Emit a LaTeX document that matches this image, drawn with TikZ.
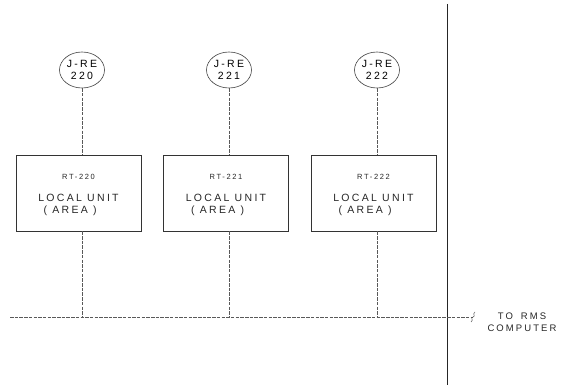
\documentclass[tikz,border=0pt]{standalone}
\usepackage{fontspec}
\usetikzlibrary{shapes.geometric}
\setmainfont{Liberation Sans}
\newfontfamily\cadfont[LetterSpace=22]{Liberation Sans}
\begin{document}
\begin{tikzpicture}[x=1pt,y=-1pt,
  tag/.style={draw=black!75,ellipse,minimum width=45pt,minimum height=36pt,inner sep=0pt,
     font=\cadfont\fontsize{10.5}{11.5}\selectfont,align=center,line width=0.6pt},
  unitbox/.style={draw=black!80,minimum width=125pt,minimum height=76pt,inner sep=0pt,line width=0.6pt},
  lbl/.style={font=\cadfont\fontsize{10.5}{12.5}\selectfont,align=left,text=black!85},
  rt/.style={font=\cadfont\fontsize{7.5}{8}\selectfont,text=black!85},
  dashline/.style={draw=black!65,dash pattern=on 3.5pt off 1.2pt,line width=0.6pt}]
\useasboundingbox (0,0) rectangle (561,385);
% solid vertical boundary
\coordinate (vt) at (447,4);
\coordinate (vb) at (447,385);
\draw[line width=0.8pt,black!85] (vt) -- (vb);
% tags
\node[tag] (t1) at (82,70) {J-RE\\220};
\node[tag] (t2) at (229,70) {J-RE\\221};
\node[tag] (t3) at (377,70) {J-RE\\222};
% boxes
\node[unitbox] (b1) at (78.5,193) {};
\node[unitbox] (b2) at (226,193) {};
\node[unitbox] (b3) at (373.5,193) {};
\foreach \i/\n in {1/220,2/221,3/222}{
  \node[rt] (r\i) at ([yshift=16pt]b\i.center) {RT-\n};
  \node[lbl] (l\i) at ([yshift=-12pt]b\i.center) {LOCAL UNIT\\\hspace*{0.5em}( AREA )};
}
% bus
\coordinate (bs) at (10,317);
\coordinate (be) at (473,317);
\draw[dashline] (bs) -- (be);
\draw[black!70,line width=0.5pt] (be) .. controls (476,316) and (472,314) .. (475,312);
\draw[black!70,line width=0.5pt] (be) .. controls (470,318) and (474,320) .. (471,322);
% drops
\foreach \i/\x in {1/82,2/229,3/377}{
  \coordinate (j\i) at (\x,317);
  \draw[dashline] (t\i.south) -- (t\i.south |- b\i.north);
  \draw[dashline] (t\i.south |- b\i.south) -- (j\i);
}
\node[font=\cadfont\fontsize{9.5}{12.5}\selectfont,align=center,text=black!85] (rms) at (522,322) {TO\,\, RMS\\COMPUTER};
\end{tikzpicture}
\end{document}
